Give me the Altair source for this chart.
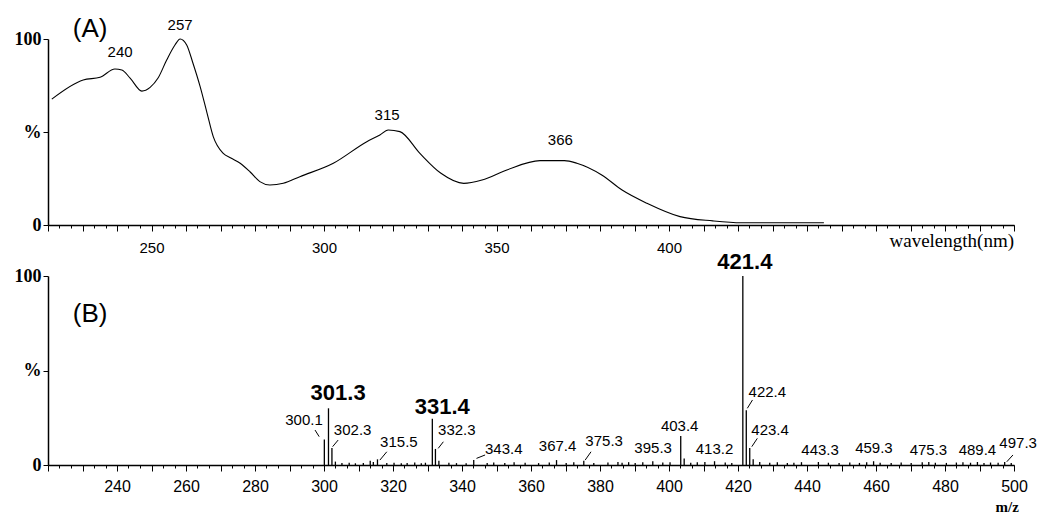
import altair as alt
import pandas as pd

# ---------------- (A) UV spectrum ----------------
uv_wl = [221.1, 230.2, 235.1, 239.4, 241.4, 243.8, 247.2, 249.6, 251.9, 254.4,
         256.8, 258.3, 260.2, 262.0, 264.1, 266.1, 267.9, 270.8, 273.0, 275.7,
         278.6, 281.4, 284.3, 288.2, 293.0, 302.7, 312.4, 316.2, 318.6, 322.0,
         327.8, 333.9, 340.5, 345.8, 353.0, 362.6, 369.7, 373.3, 380.5, 386.4,
         393.6, 403.2, 412.7, 421.0, 444.9]
uv_val = [67.7, 78.0, 79.4, 83.9, 83.3, 79.0, 72.0, 74.0, 79.0, 88.7,
          96.8, 100.0, 96.8, 87.1, 74.4, 60.2, 47.5, 38.5, 36.0, 33.2,
          28.5, 23.3, 21.5, 22.4, 26.0, 33.2, 44.8, 48.4, 51.1, 50.2,
          38.5, 27.8, 22.4, 24.2, 29.6, 34.6, 34.6, 33.2, 26.9, 18.8,
          11.7, 4.5, 2.2, 1.2, 1.2]

uv_peak_text = ["240", "257", "315", "366"]
uv_peak_x = [240.9, 258.3, 318.3, 368.5]
uv_peak_y = [93.0, 107.5, 59.1, 45.7]

# ---------------- (B) mass spectrum ----------------
ms_mz = [300.1, 301.3, 302.3, 303.3, 305.2, 307.3, 309.1, 311.4, 313.4, 314.3,
         315.5, 318.2, 320.3, 322.4, 324.1, 326.3, 328.2, 329.4, 331.4, 332.3,
         333.3, 336.2, 338.4, 341.2, 343.4, 347.3, 349.2, 352.4, 355.1, 358.3,
         362.2, 365.3, 367.4, 370.2, 372.4, 375.3, 378.2, 382.3, 385.2, 386.4,
         388.3, 390.2, 392.4, 395.3, 398.2, 400.3, 403.4, 404.4, 406.3, 408.2,
         410.4, 413.2, 416.3, 418.2, 421.4, 422.4, 423.4, 424.4, 426.3, 429.2,
         431.4, 434.3, 436.2, 438.4, 443.3, 446.2, 449.3, 452.4, 455.2, 457.3,
         459.3, 461.2, 464.4, 467.3, 470.2, 473.4, 475.3, 477.2, 480.4, 483.3,
         485.2, 487.4, 489.4, 491.3, 493.2, 495.4, 497.3, 499.2]
ms_int = [13.5, 30.0, 9.0, 1.8, 1.0, 1.2, 0.9, 1.1, 2.2, 1.6,
          3.0, 1.0, 1.2, 0.9, 1.1, 1.3, 0.9, 1.2, 24.5, 8.5,
          2.2, 1.2, 1.0, 0.9, 2.6, 1.1, 1.3, 1.0, 1.4, 1.2,
          1.0, 1.3, 2.6, 1.1, 1.4, 2.2, 1.0, 1.3, 1.6, 1.2,
          1.5, 1.1, 1.4, 2.0, 1.3, 1.5, 15.3, 3.5, 1.2, 1.4,
          1.6, 2.0, 1.3, 1.1, 100.0, 29.0, 9.0, 3.0, 1.6, 1.2,
          1.4, 1.0, 1.2, 1.5, 1.6, 1.2, 1.0, 1.3, 1.1, 1.4,
          2.0, 1.2, 1.1, 1.3, 1.0, 1.4, 1.6, 1.2, 1.1, 1.3,
          1.4, 1.2, 1.6, 1.1, 1.3, 1.2, 1.6, 1.0]

ms_small_text = ["300.1", "302.3", "315.5", "332.3", "343.4", "367.4", "375.3",
                 "395.3", "403.4", "413.2", "422.4", "423.4", "443.3", "459.3",
                 "475.3", "489.4", "497.3"]
ms_small_x = [294.2, 308.3, 321.7, 338.5, 352.1, 367.7, 381.2,
              395.4, 403.1, 413.2, 428.5, 429.3, 443.8, 459.4,
              475.2, 489.4, 501.2]
ms_small_y = [23.8, 18.5, 12.3, 18.5, 8.5, 10.0, 12.7,
              9.0, 20.6, 8.5, 38.8, 18.5, 7.9, 8.8,
              7.9, 7.9, 11.5]

ms_big_text = ["301.3", "331.4", "421.4"]
ms_big_x = [304.1, 334.3, 422.0]
ms_big_y = [37.9, 30.9, 107.4]

# leader strokes (label -> peak)
lead_x1 = [297.4, 302.5, 316.2, 333.1, 344.2, 375.7, 422.7, 424.0, 497.9]
lead_y1 = [18.5, 9.7, 2.6, 8.8, 3.5, 2.6, 30.0, 9.7, 1.7]
lead_x2 = [298.6, 304.1, 318.2, 334.6, 346.7, 377.4, 424.2, 425.6, 499.7]
lead_y2 = [15.0, 13.2, 7.0, 12.3, 5.3, 7.0, 34.4, 14.1, 5.3]

SANS = "Liberation Sans"
SERIF = "Liberation Serif"
W = 966

uv_df = pd.DataFrame({"wl": uv_wl, "val": uv_val})
uvlab_df = pd.DataFrame({"t": uv_peak_text, "x": uv_peak_x, "y": uv_peak_y})
ms_df = pd.DataFrame({"mz": ms_mz, "inten": ms_int})
small_df = pd.DataFrame({"t": ms_small_text, "x": ms_small_x, "y": ms_small_y})
big_df = pd.DataFrame({"t": ms_big_text, "x": ms_big_x, "y": ms_big_y})
lead_df = pd.DataFrame({"x1": lead_x1, "y1": lead_y1, "x2": lead_x2, "y2": lead_y2})

xs = alt.Scale(domain=[220, 500], nice=False, zero=False)
ys = alt.Scale(domain=[0, 100], nice=False, zero=True)

tens = [220 + 10 * i for i in range(29)]
thirds = [round(220 + i * 10 / 3, 3) for i in range(85)]

def yaxis():
    return alt.Axis(values=[0, 50, 100], labelExpr="datum.value == 50 ? '%' : datum.label",
                    title=None, tickSize=5, labelPadding=2, labelFont=SERIF,
                    labelFontSize=18, labelFontWeight="bold", grid=False,
                    domainWidth=1.5, minExtent=40, maxExtent=40)

def major_axis(label_expr, pad, fsize):
    return alt.Axis(values=tens, labelExpr=label_expr, orient="bottom", title=None,
                    tickSize=6, labelPadding=pad, labelFont=SANS, labelFontSize=fsize,
                    grid=False, domainWidth=1.5, labelFlush=False, labelOverlap=False)

def minor_axis():
    return alt.Axis(values=thirds, labels=False, orient="bottom", title=None,
                    tickSize=3, domain=False, grid=False)

# ---------- top panel ----------
top_expr = "datum.value % 50 == 0 && datum.value >= 250 && datum.value <= 400 ? datum.label : ''"
uv_line = alt.Chart(uv_df).mark_line(color="black", strokeWidth=1.1, interpolate="monotone").encode(
    x=alt.X("wl:Q", scale=xs, axis=major_axis(top_expr, 9, 15)),
    y=alt.Y("val:Q", scale=ys, axis=yaxis()))
uv_minor = alt.Chart(uv_df).mark_line(opacity=0).encode(
    x=alt.X("wl:Q", scale=xs, axis=minor_axis()),
    y=alt.Y("val:Q", scale=ys, axis=yaxis()))
uv_labels = alt.Chart(uvlab_df).mark_text(font=SANS, fontSize=15, color="black").encode(
    x=alt.X("x:Q", scale=xs, axis=None), y=alt.Y("y:Q", scale=ys, axis=yaxis()), text="t:N")
tagA = alt.Chart(pd.DataFrame({"t": ["(A)"], "x": [232.2], "y": [105.4]})).mark_text(
    font=SANS, fontSize=26, color="black").encode(
    x=alt.X("x:Q", scale=xs, axis=None), y=alt.Y("y:Q", scale=ys, axis=yaxis()), text="t:N")
wl_title = alt.Chart(pd.DataFrame({"t": ["wavelength(nm)"], "x": [500], "y": [-8.6]})).mark_text(
    font=SERIF, fontSize=19, color="black", align="right").encode(
    x=alt.X("x:Q", scale=xs, axis=None), y=alt.Y("y:Q", scale=ys, axis=yaxis()), text="t:N")

top = alt.layer(uv_line, uv_minor, uv_labels, tagA, wl_title).resolve_scale(
    x="independent").properties(width=W, height=186)

# ---------- bottom panel ----------
bot_expr = "datum.value % 20 == 0 && datum.value >= 240 ? datum.label : ''"
sticks = alt.Chart(ms_df).mark_rule(color="black", strokeWidth=1.3).encode(
    x=alt.X("mz:Q", scale=xs, axis=major_axis(bot_expr, 7, 16)),
    y=alt.Y("inten:Q", scale=ys, axis=yaxis()), y2=alt.datum(0))
ms_minor = alt.Chart(ms_df).mark_rule(opacity=0).encode(
    x=alt.X("mz:Q", scale=xs, axis=minor_axis()),
    y=alt.Y("inten:Q", scale=ys, axis=yaxis()))
leaders = alt.Chart(lead_df).mark_rule(color="black", strokeWidth=1).encode(
    x=alt.X("x1:Q", scale=xs, axis=None), x2="x2:Q",
    y=alt.Y("y1:Q", scale=ys, axis=yaxis()), y2="y2:Q")
small_labels = alt.Chart(small_df).mark_text(font=SANS, fontSize=15, color="black").encode(
    x=alt.X("x:Q", scale=xs, axis=None), y=alt.Y("y:Q", scale=ys, axis=yaxis()), text="t:N")
big_labels = alt.Chart(big_df).mark_text(font=SANS, fontSize=22, fontWeight="bold", color="black").encode(
    x=alt.X("x:Q", scale=xs, axis=None), y=alt.Y("y:Q", scale=ys, axis=yaxis()), text="t:N")
tagB = alt.Chart(pd.DataFrame({"t": ["(B)"], "x": [232.2], "y": [79.9]})).mark_text(
    font=SANS, fontSize=26, color="black").encode(
    x=alt.X("x:Q", scale=xs, axis=None), y=alt.Y("y:Q", scale=ys, axis=yaxis()), text="t:N")
mz_title = alt.Chart(pd.DataFrame({"t": ["m/z"], "x": [501.4], "y": [-22.4]})).mark_text(
    font=SERIF, fontSize=15, fontWeight="bold", color="black", align="right").encode(
    x=alt.X("x:Q", scale=xs, axis=None), y=alt.Y("y:Q", scale=ys, axis=yaxis()), text="t:N")

bottom = alt.layer(sticks, ms_minor, leaders, small_labels, big_labels, tagB, mz_title).resolve_scale(
    x="independent").properties(width=W, height=189)

chart = alt.vconcat(top, bottom, spacing=51, bounds="flush").properties(
    padding={"left": 0, "top": 7, "right": 0, "bottom": 0},
    background="white"
).configure_view(stroke=None).configure_axis(
    domainColor="black", tickColor="black", labelColor="black")

chart.save("out.html", embed_options={"renderer": "svg", "actions": False})
